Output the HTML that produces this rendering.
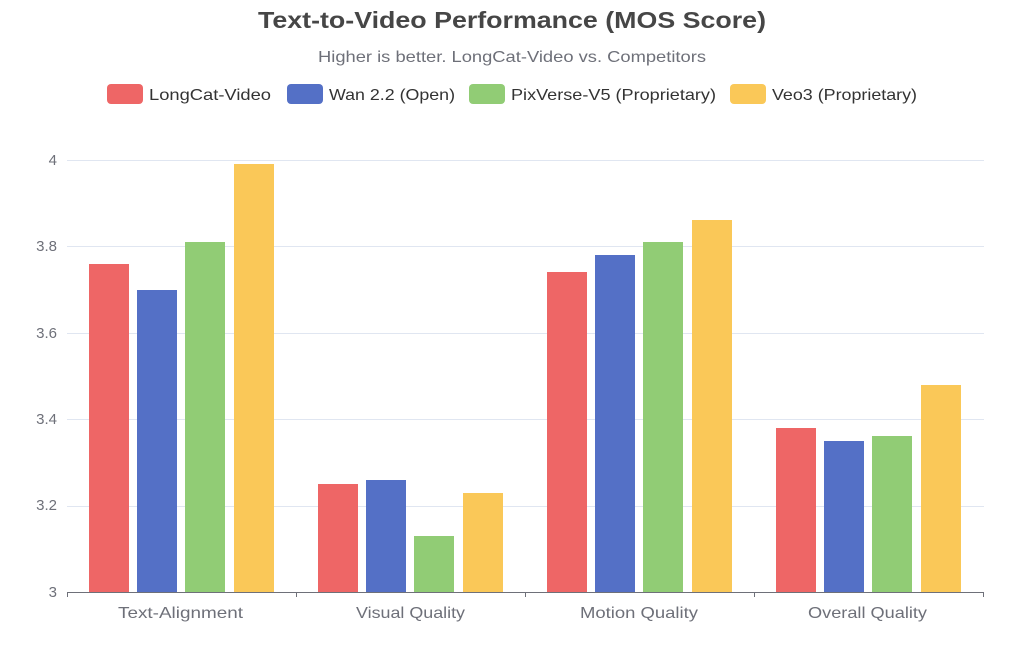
<!DOCTYPE html>
<html><head><meta charset="utf-8"><style>
body{margin:0;background:#fff;}
svg text{font-family:"Liberation Sans","Noto Sans CJK SC",sans-serif;}
</style></head><body>
<svg width="1024" height="640" viewBox="0 0 1024 640" xmlns="http://www.w3.org/2000/svg">
<text x="258" y="28" font-size="23" font-weight="bold" fill="#464646" textLength="508" lengthAdjust="spacingAndGlyphs">Text-to-Video Performance (MOS Score)</text>
<text x="318" y="62" font-size="16" fill="#6e7079" textLength="388" lengthAdjust="spacingAndGlyphs">Higher is better. LongCat-Video vs. Competitors</text>
<g font-size="16" fill="#333">
<rect x="107" y="84" width="36" height="20" rx="4" fill="#ee6666"/><text x="149" y="100" textLength="122" lengthAdjust="spacingAndGlyphs">LongCat-Video</text>
<rect x="287" y="84" width="36" height="20" rx="4" fill="#5470c6"/><text x="329" y="100" textLength="126" lengthAdjust="spacingAndGlyphs">Wan 2.2 (Open)</text>
<rect x="469" y="84" width="36" height="20" rx="4" fill="#91cc75"/><text x="511" y="100" textLength="205" lengthAdjust="spacingAndGlyphs">PixVerse-V5 (Proprietary)</text>
<rect x="730" y="84" width="36" height="20" rx="4" fill="#fac858"/><text x="772" y="100" textLength="145" lengthAdjust="spacingAndGlyphs">Veo3 (Proprietary)</text>
</g>
<g stroke="#e0e6f1" stroke-width="1">
<line x1="67" x2="984" y1="160.5" y2="160.5"/><line x1="67" x2="984" y1="246.5" y2="246.5"/>
<line x1="67" x2="984" y1="333.5" y2="333.5"/><line x1="67" x2="984" y1="419.5" y2="419.5"/>
<line x1="67" x2="984" y1="506.5" y2="506.5"/>
</g>
<g font-size="15" fill="#6e7079" text-anchor="end">
<text x="57" y="165">4</text><text x="57" y="251">3.8</text><text x="57" y="338">3.6</text>
<text x="57" y="424">3.4</text><text x="57" y="510">3.2</text><text x="57" y="597">3</text>
</g>
<g>
<rect x="89" y="264" width="40" height="328" fill="#ee6666"/>
<rect x="137" y="290" width="40" height="302" fill="#5470c6"/>
<rect x="185" y="242" width="40" height="350" fill="#91cc75"/>
<rect x="234" y="164" width="40" height="428" fill="#fac858"/>
<rect x="318" y="484" width="40" height="108" fill="#ee6666"/>
<rect x="366" y="480" width="40" height="112" fill="#5470c6"/>
<rect x="414" y="536" width="40" height="56" fill="#91cc75"/>
<rect x="463" y="493" width="40" height="99" fill="#fac858"/>
<rect x="547" y="272" width="40" height="320" fill="#ee6666"/>
<rect x="595" y="255" width="40" height="337" fill="#5470c6"/>
<rect x="643" y="242" width="40" height="350" fill="#91cc75"/>
<rect x="692" y="220" width="40" height="372" fill="#fac858"/>
<rect x="776" y="428" width="40" height="164" fill="#ee6666"/>
<rect x="824" y="441" width="40" height="151" fill="#5470c6"/>
<rect x="872" y="436" width="40" height="156" fill="#91cc75"/>
<rect x="921" y="385" width="40" height="207" fill="#fac858"/>
</g>
<g stroke="#6e7079" stroke-width="1">
<line x1="67" x2="984" y1="592.5" y2="592.5"/>
<line x1="67.5" x2="67.5" y1="592" y2="597"/><line x1="296.5" x2="296.5" y1="592" y2="597"/>
<line x1="525.5" x2="525.5" y1="592" y2="597"/><line x1="754.5" x2="754.5" y1="592" y2="597"/>
<line x1="983.5" x2="983.5" y1="592" y2="597"/>
</g>
<g font-size="16" fill="#6e7079">
<text x="118" y="618" textLength="125" lengthAdjust="spacingAndGlyphs">Text-Alignment</text>
<text x="356" y="618" textLength="109" lengthAdjust="spacingAndGlyphs">Visual Quality</text>
<text x="580" y="618" textLength="118" lengthAdjust="spacingAndGlyphs">Motion Quality</text>
<text x="808" y="618" textLength="119" lengthAdjust="spacingAndGlyphs">Overall Quality</text>
</g>
</svg>
</body></html>
